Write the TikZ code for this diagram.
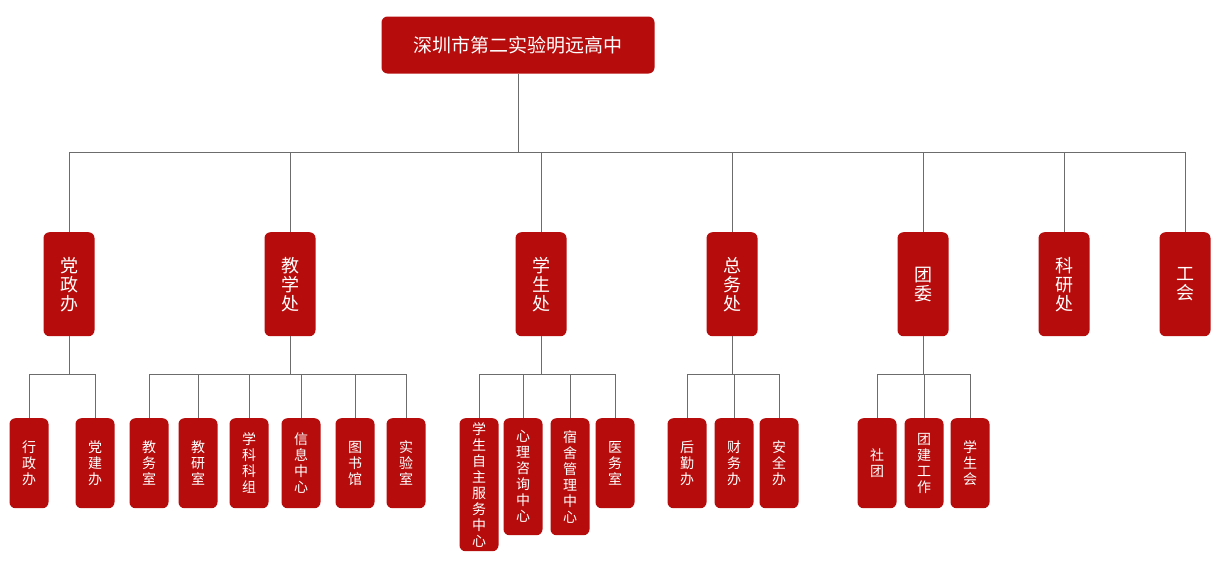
\documentclass[tikz,border=0pt]{standalone}
\usepackage{fontspec}
\newfontfamily\cjk{Noto Sans CJK SC}
\usetikzlibrary{positioning}
\definecolor{orgred}{HTML}{B70C0C}
\tikzstyle{box}=[fill=orgred, rounded corners=6pt, text=white, font=\cjk, inner sep=0pt, align=center]
\tikzstyle{dept}=[box, anchor=north, minimum width=51pt, minimum height=104pt, font=\cjk\fontsize{18}{19}\selectfont]
\tikzstyle{unit}=[box, anchor=north, minimum width=39pt, minimum height=90pt, font=\cjk\fontsize{14}{16}\selectfont]
\tikzstyle{link}=[draw=gray!85!black, line width=1pt]

\begin{document}
\begin{tikzpicture}[x=1pt, y=-1pt]
    \useasboundingbox (0,0) rectangle (1222,560);

    % 学校
    \node[box, minimum width=273pt, minimum height=57pt, font=\cjk\fontsize{19}{20}\selectfont] (school) at (518,45) {深圳市第二实验明远高中};

    % 処室
    \node[dept] (dzb) at (69,232) {党\\政\\办};
    \node[dept] (jxc) at (290,232) {教\\学\\处};
    \node[dept] (xsc) at (541,232) {学\\生\\处};
    \node[dept] (zwc) at (732,232) {总\\务\\处};
    \node[dept] (tw)  at (923,232) {团\\委};
    \node[dept] (kyc) at (1064,232) {科\\研\\处};
    \node[dept] (gh)  at (1185,232) {工\\会};

    % 上段の線
    \coordinate (bus) at (0,152);
    \draw[link] (school.south) -- (school.south|-bus);
    \draw[link] (dzb.north|-bus) -- (gh.north|-bus);
    \foreach \d in {dzb,jxc,xsc,zwc,tw,kyc,gh}
        \draw[link] (\d.north|-bus) -- (\d.north);

    % 党政办
    \node[unit] (xzb) at (29,418) {行\\政\\办};
    \node[unit] (djb) at (95,418) {党\\建\\办};
    % 教学处
    \node[unit] (jws) at (149,418) {教\\务\\室};
    \node[unit] (jys) at (198,418) {教\\研\\室};
    \node[unit] (xkz) at (249,418) {学\\科\\科\\组};
    \node[unit] (xxz) at (301,418) {信\\息\\中\\心};
    \node[unit] (tsg) at (355,418) {图\\书\\馆};
    \node[unit] (syh) at (406,418) {实\\验\\室};
    % 学生处
    \node[unit, minimum height=133pt] (zzfw) at (479,418) {学\\生\\自\\主\\服\\务\\中\\心};
    \node[unit, minimum height=117pt] (xlzx) at (523,418) {心\\理\\咨\\询\\中\\心};
    \node[unit, minimum height=117pt] (ssgl) at (570,418) {宿\\舍\\管\\理\\中\\心};
    \node[unit] (yws) at (615,418) {医\\务\\室};
    % 总务处
    \node[unit] (hqb) at (687,418) {后\\勤\\办};
    \node[unit] (cwb) at (734,418) {财\\务\\办};
    \node[unit] (aqb) at (779,418) {安\\全\\办};
    % 团委
    \node[unit] (st)  at (877,418) {社\\团};
    \node[unit] (tjgz) at (924,418) {团\\建\\工\\作};
    \node[unit] (xsh) at (970,418) {学\\生\\会};

    % 下段の線
    \coordinate (sub) at (0,374);
    \foreach \p/\first/\last/\list in {
        dzb/xzb/djb/{xzb,djb},
        jxc/jws/syh/{jws,jys,xkz,xxz,tsg,syh},
        xsc/zzfw/yws/{zzfw,xlzx,ssgl,yws},
        zwc/hqb/aqb/{hqb,cwb,aqb},
        tw/st/xsh/{st,tjgz,xsh}}{
        \draw[link] (\p.south) -- (\p.south|-sub);
        \draw[link] (\first.north|-sub) -- (\last.north|-sub);
        \foreach \c in \list
            \draw[link] (\c.north|-sub) -- (\c.north);
    }
\end{tikzpicture}
\end{document}
